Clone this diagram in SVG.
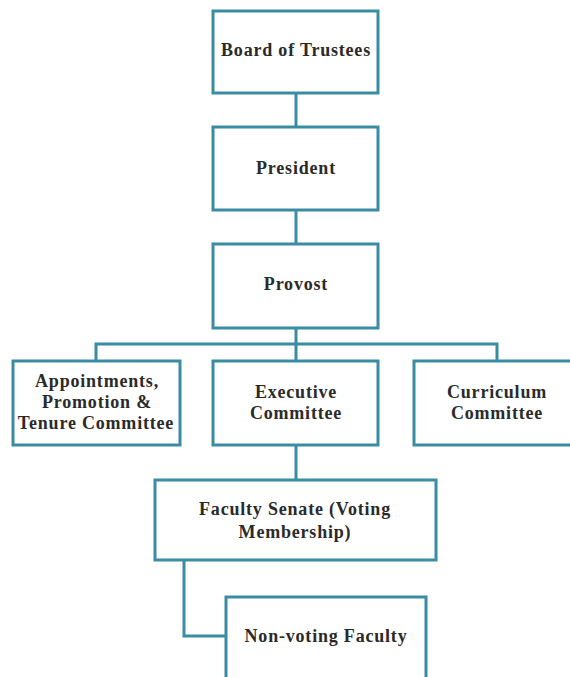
<svg xmlns="http://www.w3.org/2000/svg" width="570" height="677" viewBox="0 0 570 677">
<style>
.box{fill:#fff;stroke:#3a8ba4;stroke-width:3}
.ln{fill:none;stroke:#3a8ba4;stroke-width:3}
text{font-family:"Liberation Serif",serif;font-size:18px;letter-spacing:0.8px;font-weight:bold;fill:#2a2a2a;text-anchor:middle;dominant-baseline:central}
</style>
<rect width="570" height="677" fill="#fff"/>
<g id="connectors">
<path class="ln" d="M296 93V126"/>
<path class="ln" d="M296 210V244"/>
<path class="ln" d="M296 328V361"/>
<path class="ln" d="M96 361V344H497V361"/>
<path class="ln" d="M296 445V480"/>
<path class="ln" d="M184 560V636H226"/>
</g>
<g id="board"><rect class="box" x="213" y="11" width="165" height="82"/><text x="296" y="50">Board of Trustees</text></g>
<g id="president"><rect class="box" x="213" y="127" width="165" height="83"/><text x="296" y="168">President</text></g>
<g id="provost"><rect class="box" x="213" y="244" width="165" height="84"/><text x="296" y="284">Provost</text></g>
<g id="appointments"><rect class="box" x="13" y="361" width="167" height="84"/><text x="97" y="381">Appointments,</text><text x="97" y="402">Promotion &amp;</text><text x="96" y="423">Tenure Committee</text></g>
<g id="executive"><rect class="box" x="213" y="361" width="165" height="84"/><text x="296" y="392">Executive</text><text x="296" y="413">Committee</text></g>
<g id="curriculum"><rect class="box" x="414" y="361" width="160" height="84"/><text x="497" y="392">Curriculum</text><text x="497" y="413">Committee</text></g>
<g id="senate"><rect class="box" x="155" y="480" width="281" height="80"/><text x="295" y="509">Faculty Senate (Voting</text><text x="295" y="532">Membership)</text></g>
<g id="nonvoting"><rect class="box" x="226" y="597" width="200" height="90"/><text x="326" y="636">Non-voting Faculty</text></g>
</svg>
